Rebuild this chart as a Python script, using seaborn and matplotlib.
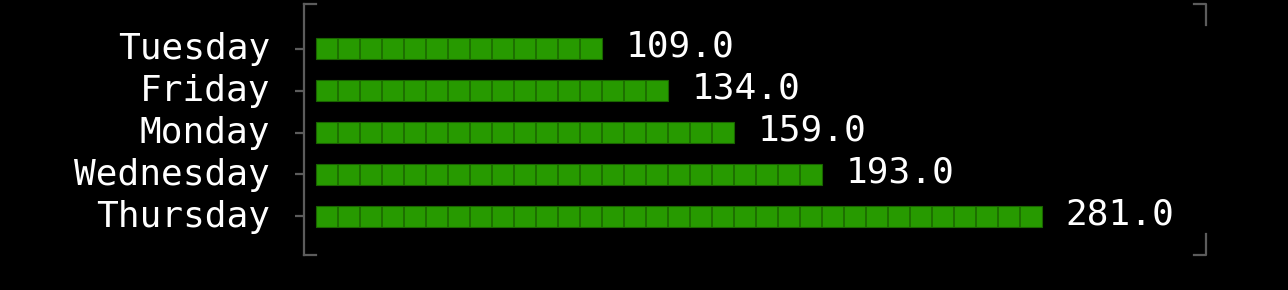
import numpy as np
import pandas as pd
import matplotlib
matplotlib.use("Agg")
import matplotlib.pyplot as plt
import matplotlib.transforms as mtrans
import seaborn as sns

days = ["Tuesday", "Friday", "Monday", "Wednesday", "Thursday"]
values = [109.0, 134.0, 159.0, 193.0, 281.0]
unit = 8.5  # value per block

blocks = [int(round(v / unit)) for v in values]
df = pd.DataFrame({"day": days, "value": values, "blocks": blocks})

sns.set_theme(style="dark")
plt.rcParams["font.family"] = ["DejaVu Sans Mono", "DejaVu Sans"]

fig = plt.figure(figsize=(12.88, 2.9), dpi=100, facecolor="black")
ax = fig.add_axes([304 / 1288, 1 - 255 / 290, (1206 - 304) / 1288, (255 - 4) / 290])
ax.set_facecolor("black")

green = "#279a00"
dark = "#1a6400"
grey = "#5c5c5c"

sns.barplot(data=df, x="blocks", y="day", order=days, orient="h", color=green,
            width=0.52, saturation=1, edgecolor=dark, linewidth=0.8, ax=ax)

# block dividers
for i, n in enumerate(blocks):
    ax.vlines(np.arange(1, n), i - 0.26, i + 0.26, color=dark, linewidth=1.1, zorder=3)

for i, (n, v) in enumerate(zip(blocks, values)):
    ax.annotate(f"{v:.1f}", xy=(n, i), xytext=(17, 1.5), textcoords="offset points",
                va="center", ha="left", color="white", fontsize=26)

ax.set_xlim(-12 / 22, (1206 - 316) / 22)
ax.set_ylim(4.917, -1.06)
ax.set_xlabel("")
ax.set_ylabel("")
ax.set_xticks([])
ax.grid(False)

for s in ["top", "right", "bottom"]:
    ax.spines[s].set_visible(False)
ax.spines["left"].set_visible(True)
ax.spines["left"].set_color(grey)
ax.spines["left"].set_linewidth(1.6)

ax.tick_params(axis="y", colors=grey, labelcolor="white", labelsize=26,
               length=6.5, width=1.6, pad=18, left=True, direction="out")
shift = mtrans.ScaledTranslation(0, 3.0 / 100, fig.dpi_scale_trans)
for lab in ax.get_yticklabels():
    lab.set_transform(lab.get_transform() + shift)

# bracket ends
hl = 12 / 902
vl = 21 / 251
kw = dict(transform=ax.transAxes, color=grey, linewidth=1.6, clip_on=False,
          solid_capstyle="projecting")
ax.plot([0, hl], [1, 1], **kw)
ax.plot([0, hl], [0, 0], **kw)
ax.plot([1 - hl, 1, 1], [1, 1, 1 - vl], **kw)
ax.plot([1 - hl, 1, 1], [0, 0, vl], **kw)

fig.savefig("out.png", dpi=100, facecolor="black")
